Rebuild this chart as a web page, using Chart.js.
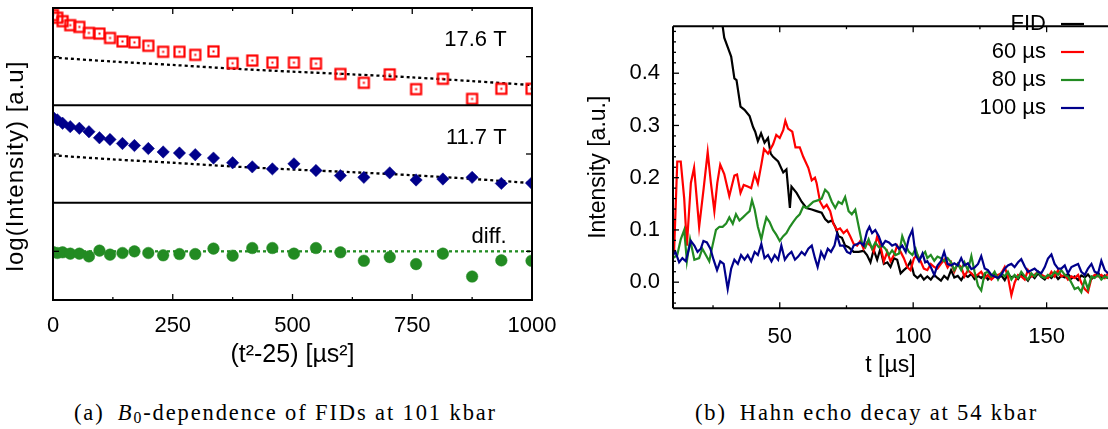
<!DOCTYPE html>
<html>
<head>
<meta charset="utf-8">
<script src="https://cdn.jsdelivr.net/npm/chart.js@4.4.0/dist/chart.umd.min.js"></script>
<style>
  html, body { margin: 0; padding: 0; background: #fff; overflow: hidden; }
  body { width: 1108px; height: 429px; position: relative; }
  canvas { position: absolute; top: 0; }
  #fidChart { left: 0; }
  #echoChart { left: 560px; }
  .caption { position: absolute; top: 401px; font-family: 'Liberation Serif', 'Times New Roman', serif; font-size: 22.5px; line-height: 24px; white-space: nowrap; }
  .caption sub { font-size: 0.7em; vertical-align: -0.22em; line-height: 0; }
</style>
</head>
<body>
<canvas id="fidChart" width="560" height="395"></canvas>
<canvas id="echoChart" width="560" height="395"></canvas>
<div class="caption" data-width="423" style="left:74px">(a)&ensp;<i>B</i><sub>0</sub>-dependence of FIDs at 101 kbar</div>
<div class="caption" data-width="343" style="left:695px">(b)&ensp;Hahn echo decay at 54 kbar</div>
<script>
// ---- (a) FIDs at two fields, plotted against t^2-25 ----
var fidT2 = [0, 9, 20, 36, 55, 75, 97, 119, 145, 170, 199, 230, 264, 297, 335, 375, 416, 458, 503, 549, 600, 649, 703, 758, 814, 875, 936, 999];
var fid176 = [2.927, 2.900, 2.865, 2.824, 2.806, 2.744, 2.737, 2.692, 2.657, 2.647, 2.612, 2.550, 2.550, 2.519, 2.554, 2.433, 2.460, 2.439, 2.439, 2.429, 2.322, 2.232, 2.318, 2.166, 2.273, 2.066, 2.170, 2.170];
var fid117 = [1.878, 1.851, 1.816, 1.781, 1.764, 1.729, 1.667, 1.649, 1.608, 1.587, 1.556, 1.521, 1.510, 1.493, 1.458, 1.410, 1.368, 1.347, 1.399, 1.330, 1.278, 1.260, 1.306, 1.233, 1.243, 1.260, 1.198, 1.201];
var fidDiff = [0.493, 0.483, 0.490, 0.476, 0.476, 0.448, 0.507, 0.466, 0.483, 0.500, 0.483, 0.459, 0.472, 0.472, 0.528, 0.455, 0.534, 0.534, 0.476, 0.534, 0.490, 0.403, 0.441, 0.369, 0.476, 0.241, 0.407, 0.403];
var fitT2 = [0, 125, 250, 375, 500, 625, 750, 875, 1000];
var fit176 = [2.491, 2.450, 2.415, 2.377, 2.346, 2.318, 2.287, 2.249, 2.208];
var fit117 = [1.486, 1.445, 1.410, 1.372, 1.341, 1.313, 1.282, 1.244, 1.201];
var diffT2 = [0, 1000];
var diffLevel = [0.5, 0.5];
var xTicksA = [0, 250, 500, 750, 1000];
var xMinorA = [125, 375, 625, 875];
var yTicksA = [0.5, 1.5, 2.5];
var panelLabels = ['17.6 T', '11.7 T', 'diff.'];

// ---- (b) Hahn echo decay ----
var tTail = [105.3, 106.6, 107.9, 109.1, 110.4, 111.6, 112.9, 114.2, 115.4, 116.7, 118.0, 119.2, 120.5, 121.8, 123.0, 124.3, 125.5, 126.8, 128.0, 129.3, 130.5, 131.8, 133.0, 134.3, 135.5, 136.8, 138.0, 139.3, 140.5, 141.8, 143.0, 144.3, 145.5, 146.8, 148.0, 149.3, 150.5, 151.8, 153.0, 154.3, 155.5, 156.8, 158.0, 159.3, 160.5, 161.8, 163.0, 164.3, 165.5, 166.8, 168.0, 169.3, 170.5, 171.8, 173.0, 174.3];

var tFid = [27.5, 28.6, 29.2, 30.5, 31.8, 33.0, 33.8, 35.3, 36.8, 38.7, 40.0, 40.8, 41.8, 43.0, 44.3, 45.6, 46.6, 47.5, 49.4, 51.3, 52.5, 53.8, 54.4, 56.3, 58.2, 60.0, 62.0, 63.8, 65.7, 67.0, 68.2, 69.5, 70.8, 72.0, 73.3, 74.5, 75.8, 77.7, 79.6, 81.4, 82.7, 84.0, 85.2, 86.5, 87.7, 89.0, 90.3, 91.5, 92.8, 94.0, 95.3, 96.5, 97.8, 99.0, 100.3, 101.6, 102.8, 104.0];
var fidEcho = [0.56, 0.49, 0.468, 0.45, 0.432, 0.39, 0.387, 0.336, 0.33, 0.318, 0.297, 0.288, 0.27, 0.285, 0.267, 0.276, 0.246, 0.24, 0.231, 0.21, 0.216, 0.142, 0.183, 0.171, 0.154, 0.142, 0.139, 0.136, 0.133, 0.121, 0.115, 0.118, 0.106, 0.088, 0.085, 0.07, 0.067, 0.058, 0.058, 0.06, 0.052, 0.038, 0.062, 0.043, 0.064, 0.035, 0.038, 0.029, 0.046, 0.043, 0.017, 0.023, 0.029, 0.04, 0.014, 0.008, 0.014, 0.005];
var fidTail = [0.011, 0.005, 0.014, 0.008, 0.003, 0.012, 0.006, 0.023, 0.009, 0.012, 0.004, 0.014, 0.010, 0.016, 0.006, 0.012, 0.008, 0.015, 0.005, 0.011, 0.018, 0.007, 0.013, 0.004, 0.016, 0.009, 0.012, 0.006, 0.015, 0.010, 0.003, 0.014, 0.008, 0.017, 0.010, 0.005, 0.013, 0.008, 0.015, 0.006, 0.012, 0.009, 0.016, 0.007, 0.011, 0.004, 0.013, 0.009, 0.015, 0.006, 0.012, 0.018, 0.008, 0.013, 0.007, 0.010];

var t60 = [10.4, 11.6, 12.9, 14.2, 15.2, 16.7, 17.9, 19.8, 21.5, 23.0, 24.2, 25.5, 26.6, 27.7, 29.2, 31.1, 33.0, 34.0, 35.3, 36.5, 38.0, 39.3, 40.6, 41.8, 43.1, 44.1, 45.6, 47.5, 48.7, 50.0, 51.3, 52.1, 53.1, 54.7, 55.9, 57.5, 58.8, 60.7, 62.0, 63.2, 63.8, 65.1, 66.4, 67.6, 68.9, 70.1, 71.4, 72.6, 73.9, 75.2, 76.4, 77.7, 79.0, 80.2, 81.4, 82.7, 84.0, 85.2, 86.5, 87.7, 89.0, 90.3, 91.5, 92.8, 94.0, 95.3, 96.5, 97.8, 99.0, 100.3, 101.6, 102.8, 104.0];
var echo60 = [0.058, 0.231, 0.231, 0.16, 0.07, 0.19, 0.219, 0.106, 0.18, 0.249, 0.19, 0.136, 0.19, 0.225, 0.207, 0.165, 0.204, 0.206, 0.171, 0.186, 0.183, 0.18, 0.207, 0.189, 0.225, 0.255, 0.246, 0.264, 0.282, 0.276, 0.291, 0.309, 0.294, 0.288, 0.258, 0.258, 0.24, 0.219, 0.195, 0.2, 0.19, 0.154, 0.142, 0.148, 0.136, 0.112, 0.1, 0.103, 0.094, 0.1, 0.088, 0.073, 0.07, 0.079, 0.064, 0.076, 0.07, 0.058, 0.088, 0.07, 0.04, 0.058, 0.04, 0.052, 0.07, 0.058, 0.046, 0.029, 0.023, 0.046, 0.052, 0.04, 0.026];
var echo60Tail = [0.023, 0.035, 0.029, 0.026, 0.035, 0.043, 0.028, 0.038, 0.020, 0.035, 0.029, 0.011, 0.023, 0.017, 0.011, 0.015, 0.020, 0.008, 0.014, 0.005, 0.011, 0.014, 0.017, 0.029, 0.011, -0.025, -0.001, 0.014, 0.011, 0.005, 0.023, 0.011, 0.014, 0.020, 0.014, 0.011, 0.008, 0.020, 0.011, 0.023, 0.011, 0.014, 0.005, 0.011, 0.008, 0.014, -0.001, -0.013, -0.019, 0.008, 0.014, 0.011, 0.014, 0.008, 0.017, 0.011];

var t80 = [10.0, 11.6, 12.9, 14.2, 15.2, 16.4, 18.0, 19.8, 21.0, 22.3, 23.6, 24.8, 26.1, 27.4, 28.6, 29.9, 31.1, 32.4, 33.6, 34.9, 36.2, 37.4, 38.7, 39.6, 40.6, 41.8, 43.1, 44.1, 45.0, 46.2, 47.5, 48.7, 50.0, 51.3, 52.5, 53.8, 55.0, 56.3, 57.5, 58.8, 60.0, 61.3, 62.6, 64.5, 65.7, 67.0, 68.2, 69.5, 70.8, 72.0, 73.3, 74.5, 75.8, 77.0, 78.3, 79.6, 80.8, 82.1, 83.3, 84.6, 85.8, 87.1, 88.4, 89.6, 90.9, 92.1, 93.4, 94.7, 95.9, 97.2, 98.4, 99.7, 100.9, 102.2, 103.5, 104.5];
var echo80 = [0.046, 0.052, 0.082, 0.1, 0.04, 0.082, 0.043, 0.046, 0.064, 0.052, 0.04, 0.07, 0.1, 0.106, 0.106, 0.112, 0.124, 0.112, 0.13, 0.118, 0.124, 0.13, 0.136, 0.157, 0.139, 0.106, 0.082, 0.106, 0.124, 0.115, 0.1, 0.091, 0.079, 0.088, 0.094, 0.106, 0.115, 0.124, 0.13, 0.145, 0.142, 0.148, 0.154, 0.157, 0.16, 0.177, 0.171, 0.154, 0.142, 0.154, 0.15, 0.163, 0.136, 0.13, 0.139, 0.106, 0.076, 0.067, 0.082, 0.064, 0.076, 0.067, 0.07, 0.064, 0.052, 0.061, 0.052, 0.055, 0.088, 0.07, 0.058, 0.052, 0.064, 0.043, 0.052, 0.058];
var echo80Tail = [0.046, 0.052, 0.041, 0.049, 0.046, 0.040, 0.046, 0.038, 0.023, 0.035, 0.023, 0.038, 0.023, 0.050, 0.020, -0.007, -0.016, 0.017, 0.020, 0.011, 0.020, 0.005, 0.017, 0.011, 0.020, 0.005, 0.014, 0.008, 0.020, 0.011, 0.005, 0.017, 0.011, 0.020, 0.011, 0.008, 0.014, 0.011, 0.020, 0.014, 0.023, 0.014, 0.011, -0.001, -0.013, -0.010, -0.019, 0.005, -0.013, 0.011, 0.008, 0.014, 0.005, 0.011, 0.008, 0.014];

var t100 = [10.0, 10.9, 12.3, 13.5, 14.8, 16.7, 18.0, 19.2, 20.4, 21.4, 22.7, 24.0, 25.2, 26.5, 27.7, 29.0, 30.5, 31.8, 33.0, 34.3, 35.5, 36.8, 38.0, 39.3, 40.6, 41.8, 43.1, 44.3, 45.6, 46.9, 48.1, 49.4, 50.6, 51.9, 53.1, 54.4, 55.7, 56.9, 58.2, 59.4, 60.7, 62.0, 63.2, 64.2, 65.5, 66.7, 68.0, 69.2, 70.5, 71.4, 72.6, 73.9, 75.2, 76.4, 77.7, 79.0, 80.2, 81.4, 82.7, 83.6, 84.6, 85.8, 87.1, 88.4, 89.6, 90.9, 92.1, 93.4, 94.7, 95.9, 97.2, 98.4, 99.7, 100.9, 102.2, 103.5, 104.5];
var echo100 = [0.052, 0.058, 0.038, 0.046, 0.04, 0.079, 0.07, 0.058, 0.064, 0.079, 0.076, 0.064, 0.043, 0.023, 0.04, 0.035, -0.013, 0.026, 0.043, 0.035, 0.052, 0.043, 0.052, 0.04, 0.058, 0.052, 0.073, 0.046, 0.052, 0.04, 0.052, 0.043, 0.07, 0.043, 0.052, 0.058, 0.043, 0.049, 0.058, 0.052, 0.064, 0.07, 0.046, 0.029, 0.058, 0.046, 0.064, 0.058, 0.07, 0.091, 0.07, 0.07, 0.058, 0.055, 0.07, 0.073, 0.076, 0.07, 0.097, 0.106, 0.094, 0.1, 0.088, 0.07, 0.079, 0.076, 0.07, 0.073, 0.064, 0.07, 0.058, 0.085, 0.1, 0.052, 0.04, 0.055, 0.038];
var echo100Tail = [0.040, 0.029, 0.014, 0.032, 0.040, 0.058, 0.035, 0.032, 0.036, 0.032, 0.046, 0.032, 0.036, 0.025, 0.028, 0.035, 0.050, 0.026, 0.023, 0.014, 0.011, 0.008, 0.014, 0.026, 0.032, 0.035, 0.029, 0.038, 0.044, 0.030, 0.020, 0.023, 0.026, 0.020, 0.017, 0.029, 0.045, 0.053, 0.035, 0.026, 0.026, 0.032, 0.017, 0.029, 0.032, 0.035, 0.020, 0.014, 0.026, 0.035, 0.020, 0.017, 0.041, 0.023, 0.017, 0.030];

var xTicksB = [50, 100, 150];
var xMinorB = [25, 75, 125];
var yTicksB = [0, 0.1, 0.2, 0.3, 0.4];
var yMinorB = [-0.04, -0.02, 0.02, 0.04, 0.06, 0.08, 0.12, 0.14, 0.16, 0.18, 0.22, 0.24, 0.26, 0.28, 0.32, 0.34, 0.36, 0.38, 0.42, 0.44, 0.46, 0.48];

var SANS = "'Liberation Sans', Arial, sans-serif";
Chart.defaults.font.family = SANS;
Chart.defaults.color = '#000';
Chart.defaults.animation = false;

function pts(xs, ys) {
    return xs.map(function (x, i) { return { x: x, y: ys[i] }; });
}

// open square with a dot in the middle (gnuplot point type 6-ish)
function boxedDot(color) {
    var c = document.createElement('canvas');
    c.width = 15; c.height = 15;
    var g = c.getContext('2d');
    g.strokeStyle = color; g.lineWidth = 2.2;
    g.strokeRect(2.5, 2.5, 10, 10);
    g.fillStyle = color;
    g.fillRect(6.5, 6.5, 2, 2);
    return c;
}

// frame, inward ticks and panel separators
function gnuplotFrame(o) {
    return {
        id: 'gnuplotFrame',
        afterDatasetsDraw: function (chart) {
            var ctx = chart.ctx, a = chart.chartArea, sx = chart.scales.x, sy = chart.scales.y;
            function seg(x1, y1, x2, y2) { ctx.beginPath(); ctx.moveTo(x1, y1); ctx.lineTo(x2, y2); ctx.stroke(); }
            ctx.save();
            ctx.strokeStyle = '#000';
            ctx.lineWidth = 1.3;
            o.xMajor.forEach(function (v) { var p = sx.getPixelForValue(v); seg(p, a.bottom, p, a.bottom - 6); seg(p, a.top, p, a.top + 6); });
            o.xMinor.forEach(function (v) { var p = sx.getPixelForValue(v); seg(p, a.bottom, p, a.bottom - 3); seg(p, a.top, p, a.top + 3); });
            o.yMajor.forEach(function (v) {
                var p = sy.getPixelForValue(v);
                seg(a.left, p, a.left + 6, p);
                if (o.closed) seg(a.right, p, a.right - 6, p);
            });
            (o.yMinor || []).forEach(function (v) { var p = sy.getPixelForValue(v); seg(a.left, p, a.left + 3, p); });
            ctx.lineWidth = 2;
            if (o.closed) {
                ctx.strokeRect(a.left, a.top, a.right - a.left, a.bottom - a.top);
            } else {
                seg(a.right + 2, a.top, a.left, a.top);
                seg(a.left, a.top, a.left, a.bottom);
                seg(a.left, a.bottom, a.right + 2, a.bottom);
            }
            (o.splits || []).forEach(function (v) { var p = sy.getPixelForValue(v); seg(a.left, p, a.right, p); });
            ctx.restore();
        }
    };
}

// field labels in each strip plus the y title (sits a bit below centre)
var panelText = {
    id: 'panelText',
    afterDraw: function (chart) {
        var ctx = chart.ctx, sx = chart.scales.x, sy = chart.scales.y;
        var labelY = [2.674, 1.661, 0.653];
        ctx.save();
        ctx.fillStyle = '#000';
        ctx.font = '22px ' + SANS;
        ctx.textAlign = 'right';
        ctx.textBaseline = 'middle';
        panelLabels.forEach(function (t, i) {
            ctx.fillText(t, sx.getPixelForValue(947), sy.getPixelForValue(labelY[i]));
        });
        ctx.translate(16, 166);
        ctx.rotate(-Math.PI / 2);
        ctx.font = '24px ' + SANS;
        ctx.letterSpacing = '1px';
        ctx.textAlign = 'center';
        ctx.fillText('log(Intensity) [a.u]', 0, 0);
        ctx.restore();
    }
};

// gnuplot style key: right aligned text followed by a line sample
var echoKey = {
    id: 'echoKey',
    afterDraw: function (chart) {
        var ctx = chart.ctx;
        ctx.save();
        ctx.font = '22px ' + SANS;
        ctx.textAlign = 'right';
        ctx.textBaseline = 'middle';
        chart.data.datasets.forEach(function (ds, i) {
            var y = 24 + i * 28;
            ctx.fillStyle = '#000';
            ctx.fillText(ds.label, 486, y);
            ctx.strokeStyle = ds.borderColor;
            ctx.lineWidth = 2.2;
            ctx.beginPath(); ctx.moveTo(501, y); ctx.lineTo(524, y); ctx.stroke();
        });
        ctx.restore();
    }
};

document.addEventListener('DOMContentLoaded', function () {
    // left panel: three stacked strips on one 0..3 axis
    new Chart(document.getElementById('fidChart'), {
        type: 'scatter',
        data: {
            datasets: [
                { label: '17.6 T', data: pts(fidT2, fid176), pointStyle: boxedDot('#ff0000'), pointRadius: 7, order: 1 },
                { label: '11.7 T', data: pts(fidT2, fid117), pointStyle: 'rectRot', pointRadius: 6.2, backgroundColor: '#00008b', borderColor: '#00008b', borderWidth: 0.5, order: 1 },
                { label: 'diff.', data: pts(fidT2, fidDiff), pointStyle: 'circle', pointRadius: 5.8, backgroundColor: '#228b22', borderColor: '#228b22', borderWidth: 0.5, order: 1 },
                { label: 'fit 17.6', data: pts(fitT2, fit176), showLine: true, pointRadius: 0, borderColor: '#000', borderWidth: 2.3, borderDash: [3, 3], tension: 0.3, order: 2 },
                { label: 'fit 11.7', data: pts(fitT2, fit117), showLine: true, pointRadius: 0, borderColor: '#000', borderWidth: 2.3, borderDash: [3, 3], tension: 0.3, order: 2 },
                { label: 'zero', data: pts(diffT2, diffLevel), showLine: true, pointRadius: 0, borderColor: '#228b22', borderWidth: 2.3, borderDash: [3, 3], order: 2 }
            ]
        },
        options: {
            responsive: false,
            layout: { padding: { left: 0, top: 5.5, right: 28, bottom: 0 } },
            plugins: { legend: { display: false }, tooltip: { enabled: false } },
            scales: {
                x: {
                    type: 'linear', min: 0, max: 1000,
                    afterBuildTicks: function (s) { s.ticks = xTicksA.map(function (v) { return { value: v }; }); },
                    ticks: { font: { size: 22 }, padding: 12.5, maxRotation: 0, autoSkip: false, callback: function (v) { return String(v); } },
                    grid: { display: false, drawTicks: false },
                    border: { display: false },
                    title: { display: true, text: '(t²-25) [µs²]', font: { size: 25 }, padding: { top: 0, bottom: 25 } },
                    // the end labels may hang over the frame, as in gnuplot
                    afterFit: function (s) { s.height = 95; s.paddingLeft = 0; s.paddingRight = 0; }
                },
                y: {
                    type: 'linear', min: 0, max: 3,
                    ticks: { display: false },
                    grid: { display: false, drawTicks: false },
                    border: { display: false },
                    afterFit: function (s) { s.width = 53; }
                }
            }
        },
        plugins: [gnuplotFrame({ xMajor: xTicksA, xMinor: xMinorA, yMajor: yTicksA, closed: true, splits: [1, 2] }), panelText]
    });

    // right panel: echo traces
    new Chart(document.getElementById('echoChart'), {
        type: 'scatter',
        data: {
            datasets: [
                { label: 'FID', data: pts(tFid.concat(tTail), fidEcho.concat(fidTail)), borderColor: '#000000', order: 4 },
                { label: '60 µs', data: pts(t60.concat(tTail), echo60.concat(echo60Tail)), borderColor: '#ff0000', order: 3 },
                { label: '80 µs', data: pts(t80.concat(tTail), echo80.concat(echo80Tail)), borderColor: '#228b22', order: 2 },
                { label: '100 µs', data: pts(t100.concat(tTail), echo100.concat(echo100Tail)), borderColor: '#00008b', order: 1 }
            ]
        },
        options: {
            responsive: false,
            showLine: true,
            elements: { point: { radius: 0 }, line: { borderWidth: 2.2, tension: 0 } },
            layout: { padding: { left: 0, top: 7.4, right: 12, bottom: 0 } },
            plugins: { legend: { display: false }, tooltip: { enabled: false } },
            scales: {
                x: {
                    type: 'linear', min: 10, max: 173,
                    afterBuildTicks: function (s) { s.ticks = xTicksB.map(function (v) { return { value: v }; }); },
                    ticks: { font: { size: 22 }, padding: 15.5, maxRotation: 0, autoSkip: false },
                    grid: { display: false, drawTicks: false },
                    border: { display: false },
                    title: { display: true, text: 't [µs]', font: { size: 23 }, padding: { top: 0, bottom: 16 } },
                    afterFit: function (s) { s.height = 86.7; s.paddingLeft = 0; s.paddingRight = 0; }
                },
                y: {
                    type: 'linear', min: -0.05, max: 0.49,
                    afterBuildTicks: function (s) { s.ticks = yTicksB.map(function (v) { return { value: v }; }); },
                    ticks: { font: { size: 22 }, padding: 13, callback: function (v) { return v.toFixed(1); } },
                    grid: { display: false, drawTicks: false },
                    border: { display: false },
                    title: { display: true, text: 'Intensity [a.u.]', font: { size: 23 }, padding: { top: 25, bottom: 0 } },
                    afterFit: function (s) { s.width = 113; }
                }
            }
        },
        plugins: [gnuplotFrame({ xMajor: xTicksB, xMinor: xMinorB, yMajor: yTicksB, yMinor: yMinorB, closed: false }), echoKey]
    });

    // stretch the serif captions to the width they have in the figure
    document.querySelectorAll('.caption').forEach(function (el) {
        var n = el.textContent.length;
        var w = el.getBoundingClientRect().width;
        el.style.letterSpacing = ((el.dataset.width - w) / n) + 'px';
    });
});
</script>
</body>
</html>
